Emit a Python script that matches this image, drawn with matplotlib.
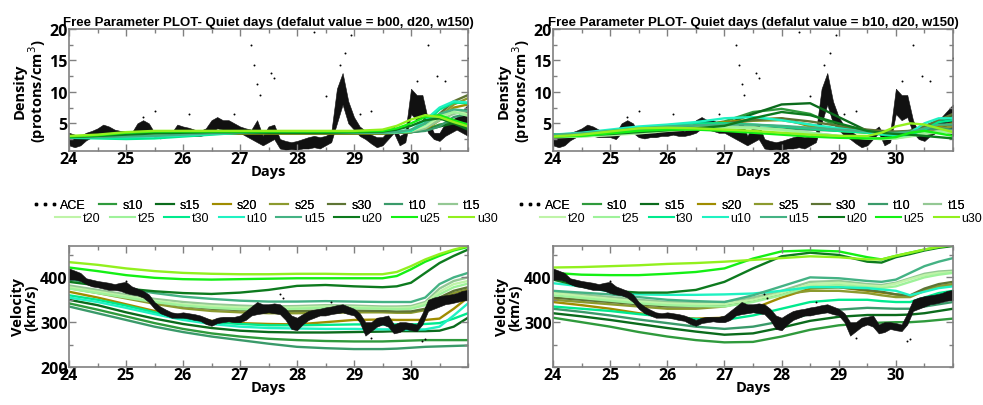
import numpy as np
import matplotlib
matplotlib.use("Agg")
import matplotlib.pyplot as plt
from matplotlib.lines import Line2D
from matplotlib.ticker import MultipleLocator

# model names and colours
names = ["s10", "s15", "s20", "s25", "s30", "t10", "t15",
         "t20", "t25", "t30", "u10", "u15", "u20", "u25", "u30"]
colors = ["#2f9a3c", "#0b6b1c", "#a08c00", "#8c9a2e", "#5e7434", "#3a9a6a", "#94c894",
          "#bff4a8", "#9ef29a", "#00ea8e", "#1ff2c2", "#44b284", "#0d7a1e", "#14f014", "#92f01e"]

# model knots (days)
knots = [24, 24.5, 25, 25.5, 26, 26.5, 27, 27.5, 28, 28.5, 29, 29.5, 29.75, 30, 30.25, 30.5, 30.75, 31]

# density, left panel (b00)
dens_left = {
    "s10": [2.8, 2.9, 3.1, 3.2, 3.3, 3.4, 3.4, 3.4, 3.4, 3.4, 3.4, 3.4, 3.5, 3.6, 4.0, 4.8, 5.2, 4.5],
    "s15": [2.8, 2.9, 3.1, 3.2, 3.3, 3.4, 3.4, 3.4, 3.4, 3.4, 3.4, 3.4, 3.5, 3.6, 3.9, 4.5, 5.0, 4.0],
    "s20": [2.8, 2.9, 3.0, 3.2, 3.3, 3.4, 3.4, 3.4, 3.4, 3.4, 3.4, 3.4, 3.5, 3.6, 4.0, 5.5, 7.5, 8.0],
    "s25": [2.9, 3.0, 3.2, 3.3, 3.4, 3.5, 3.5, 3.5, 3.5, 3.5, 3.5, 3.5, 3.5, 3.7, 4.2, 6.0, 8.0, 9.0],
    "s30": [2.9, 3.0, 3.2, 3.4, 3.5, 3.6, 3.6, 3.6, 3.6, 3.6, 3.5, 3.5, 3.6, 3.8, 4.5, 6.5, 8.5, 9.5],
    "t10": [2.8, 2.9, 3.1, 3.3, 3.4, 3.5, 3.5, 3.5, 3.5, 3.5, 3.5, 3.5, 3.5, 3.6, 3.8, 4.5, 6.0, 6.5],
    "t15": [2.9, 3.0, 3.2, 3.3, 3.4, 3.5, 3.5, 3.5, 3.5, 3.5, 3.5, 3.5, 3.6, 3.7, 4.2, 5.5, 6.5, 7.0],
    "t20": [2.9, 3.0, 3.2, 3.3, 3.4, 3.5, 3.5, 3.5, 3.5, 3.5, 3.5, 3.5, 3.6, 3.8, 4.5, 6.0, 6.8, 6.5],
    "t25": [2.9, 3.0, 3.2, 3.3, 3.4, 3.5, 3.5, 3.5, 3.5, 3.5, 3.5, 3.5, 3.6, 3.9, 4.8, 6.3, 6.8, 6.2],
    "t30": [2.7, 2.6, 2.5, 2.6, 2.9, 3.2, 3.5, 3.6, 3.6, 3.6, 3.6, 3.6, 3.6, 3.8, 5.0, 7.2, 8.3, 8.2],
    "u10": [2.8, 2.8, 2.8, 2.9, 3.1, 3.3, 3.5, 3.6, 3.6, 3.6, 3.6, 3.6, 3.7, 3.9, 5.5, 7.5, 8.5, 8.3],
    "u15": [2.8, 2.8, 2.9, 3.0, 3.2, 3.4, 3.5, 3.5, 3.5, 3.5, 3.5, 3.5, 3.6, 4.0, 5.0, 6.5, 7.2, 7.0],
    "u20": [2.8, 3.0, 3.2, 3.4, 3.5, 3.6, 3.6, 3.5, 3.5, 3.5, 3.6, 3.7, 4.0, 4.6, 5.5, 5.8, 5.0, 4.2],
    "u25": [2.9, 3.1, 3.5, 3.7, 3.7, 3.7, 3.7, 3.7, 3.7, 3.7, 3.7, 3.8, 4.2, 5.0, 6.0, 6.3, 5.5, 4.8],
    "u30": [3.0, 3.2, 3.6, 3.8, 3.8, 3.8, 3.8, 3.8, 3.8, 3.8, 3.8, 4.0, 4.6, 5.6, 6.3, 6.0, 5.2, 4.5],
}

# density, right panel (b10)
dens_right = {
    "s10": [3.0, 3.2, 3.5, 3.8, 4.2, 4.6, 5.3, 6.8, 7.3, 6.5, 4.5, 3.7, 3.5, 3.5, 3.8, 4.5, 5.5, 6.0],
    "s15": [3.0, 3.1, 3.3, 3.6, 3.9, 4.2, 4.8, 6.5, 8.0, 8.2, 6.0, 3.8, 3.5, 3.5, 3.6, 4.0, 4.5, 5.0],
    "s20": [3.0, 3.2, 3.4, 3.8, 4.2, 4.6, 5.2, 5.6, 5.8, 4.5, 3.8, 3.5, 3.3, 3.2, 3.3, 3.8, 4.5, 5.0],
    "s25": [3.0, 3.2, 3.5, 3.8, 4.2, 4.6, 5.0, 5.4, 5.5, 4.8, 4.0, 3.6, 3.4, 3.3, 3.4, 3.8, 4.2, 4.5],
    "s30": [3.1, 3.3, 3.5, 3.8, 4.2, 4.5, 5.0, 5.5, 5.8, 5.3, 4.6, 4.0, 3.8, 3.7, 3.8, 4.5, 5.5, 6.5],
    "t10": [3.2, 3.3, 3.6, 4.0, 4.3, 4.4, 4.4, 4.3, 4.2, 4.0, 3.8, 3.6, 3.5, 3.5, 3.7, 4.0, 4.2, 4.0],
    "t15": [2.9, 3.0, 3.3, 3.6, 4.0, 4.3, 4.5, 4.4, 4.0, 3.5, 3.0, 2.7, 2.6, 2.7, 3.0, 3.5, 3.8, 3.8],
    "t20": [2.8, 2.9, 3.1, 3.4, 3.8, 4.1, 4.3, 4.2, 3.9, 3.4, 2.9, 2.6, 2.5, 2.6, 2.9, 3.3, 3.6, 3.5],
    "t25": [2.8, 2.9, 3.2, 3.5, 3.9, 4.2, 4.4, 4.3, 4.0, 3.5, 3.0, 2.6, 2.5, 2.6, 3.0, 3.4, 3.7, 3.6],
    "t30": [3.0, 3.3, 3.7, 4.2, 4.7, 5.0, 5.0, 4.8, 4.5, 4.2, 3.8, 3.5, 3.2, 3.0, 3.2, 4.0, 5.2, 5.5],
    "u10": [3.2, 3.5, 4.0, 4.5, 4.8, 5.2, 5.8, 6.0, 5.5, 4.8, 4.2, 3.6, 3.3, 3.2, 3.5, 5.0, 5.8, 5.8],
    "u15": [3.2, 3.4, 3.8, 4.2, 4.5, 4.7, 4.8, 4.8, 4.6, 4.3, 4.0, 3.7, 3.5, 3.4, 3.6, 4.2, 4.8, 4.8],
    "u20": [2.9, 3.1, 3.3, 3.6, 3.9, 4.2, 4.6, 5.8, 6.8, 6.3, 5.0, 3.8, 3.5, 3.3, 3.2, 3.0, 2.8, 2.6],
    "u25": [2.9, 3.0, 3.4, 3.8, 4.0, 4.0, 3.8, 3.5, 3.2, 2.9, 2.7, 2.6, 2.6, 2.8, 3.5, 3.8, 3.4, 3.0],
    "u30": [2.9, 3.2, 3.7, 4.2, 4.3, 4.2, 4.0, 3.8, 3.5, 3.2, 3.0, 3.0, 3.5, 4.5, 5.0, 4.8, 4.2, 3.6],
}

# velocity, left panel (b00)
vel_left = {
    "s10": [342, 328, 313, 298, 285, 275, 268, 263, 260, 258, 257, 257, 258, 259, 260, 260, 260, 260],
    "s15": [350, 338, 322, 308, 296, 287, 281, 278, 277, 277, 278, 279, 280, 280, 280, 281, 290, 310],
    "s20": [368, 355, 340, 325, 312, 303, 298, 296, 295, 300, 305, 306, 305, 305, 305, 308, 330, 355],
    "s25": [376, 365, 353, 341, 331, 325, 322, 320, 320, 321, 322, 322, 321, 321, 327, 350, 365, 373],
    "s30": [380, 370, 358, 346, 336, 330, 327, 325, 325, 326, 326, 325, 324, 324, 330, 355, 370, 378],
    "t10": [335, 320, 305, 290, 278, 268, 260, 252, 245, 242, 240, 240, 241, 243, 245, 246, 247, 248],
    "t15": [382, 372, 362, 352, 345, 340, 337, 335, 336, 338, 337, 335, 335, 336, 345, 375, 392, 400],
    "t20": [378, 368, 358, 348, 340, 336, 333, 332, 333, 335, 334, 332, 332, 333, 342, 368, 385, 392],
    "t25": [375, 365, 355, 345, 337, 332, 329, 328, 330, 332, 331, 330, 329, 330, 338, 362, 378, 386],
    "t30": [360, 350, 337, 322, 308, 300, 296, 293, 293, 294, 295, 295, 295, 295, 296, 298, 308, 320],
    "u10": [355, 345, 332, 318, 305, 296, 290, 287, 286, 285, 285, 284, 284, 283, 284, 290, 315, 342],
    "u15": [395, 385, 375, 365, 357, 352, 348, 346, 346, 347, 346, 345, 345, 345, 355, 385, 400, 410],
    "u20": [390, 382, 375, 369, 365, 363, 366, 372, 381, 383, 380, 378, 380, 388, 410, 432, 448, 462],
    "u25": [422, 414, 405, 399, 396, 395, 396, 397, 398, 398, 398, 398, 403, 418, 435, 448, 460, 468],
    "u30": [434, 428, 420, 414, 410, 408, 407, 407, 408, 408, 407, 407, 412, 425, 440, 452, 462, 470],
}

# velocity, right panel (b10)
vel_right = {
    "s10": [310, 300, 290, 278, 268, 260, 255, 256, 268, 283, 293, 298, 299, 300, 300, 302, 305, 308],
    "s15": [320, 313, 305, 296, 287, 279, 272, 275, 288, 303, 312, 316, 316, 316, 317, 320, 325, 330],
    "s20": [345, 338, 330, 320, 312, 308, 310, 330, 355, 375, 378, 370, 366, 362, 358, 372, 380, 383],
    "s25": [350, 345, 340, 335, 330, 330, 335, 350, 362, 370, 370, 365, 360, 356, 356, 370, 380, 385],
    "s30": [355, 350, 345, 340, 335, 335, 338, 350, 365, 378, 378, 372, 368, 362, 360, 375, 385, 390],
    "t10": [330, 323, 315, 306, 298, 290, 285, 290, 302, 318, 328, 332, 331, 330, 330, 335, 340, 345],
    "t15": [368, 362, 356, 350, 345, 344, 345, 355, 370, 390, 392, 385, 383, 388, 398, 408, 413, 415],
    "t20": [365, 358, 352, 346, 342, 340, 340, 350, 365, 385, 388, 382, 380, 386, 396, 405, 410, 412],
    "t25": [360, 354, 348, 342, 338, 336, 335, 345, 360, 380, 383, 378, 376, 380, 390, 400, 406, 410],
    "t30": [335, 330, 325, 318, 312, 307, 305, 315, 330, 345, 350, 350, 347, 345, 345, 355, 365, 370],
    "u10": [387, 380, 368, 362, 361, 361, 362, 364, 370, 378, 378, 376, 373, 370, 360, 368, 376, 380],
    "u15": [370, 366, 362, 356, 350, 347, 345, 360, 380, 400, 398, 392, 390, 395, 410, 425, 435, 443],
    "u20": [395, 380, 370, 366, 366, 372, 390, 420, 447, 455, 450, 435, 433, 445, 452, 460, 466, 470],
    "u25": [410, 406, 405, 405, 408, 412, 420, 442, 458, 460, 458, 445, 440, 448, 455, 462, 468, 472],
    "u30": [422, 423, 425, 427, 430, 432, 435, 439, 443, 447, 445, 440, 440, 448, 455, 462, 468, 472],
}

# ACE observations, 0.1 day bins: lower / upper envelope
ace_days = [24.0 + 0.1 * i for i in range(71)]
ace_dens_lo = [1.5, 1.2, 1.5, 2.3, 2.8, 3.0, 3.2, 3.0, 2.8, 2.8,
               2.8, 2.5, 3.5, 3.8, 3.5, 2.8, 2.6, 2.8, 2.8, 3.0,
               3.0, 3.2, 3.0, 3.0, 3.2, 3.5, 4.2, 4.0, 3.8, 3.5,
               3.5, 3.0, 2.5, 2.0, 1.5, 2.0, 2.5, 1.0, 0.8, 0.9,
               0.8, 1.0, 1.0, 1.2, 1.0, 1.5, 2.0, 5.0, 8.0, 5.0,
               4.0, 3.0, 2.5, 1.8, 1.2, 1.5, 2.5, 3.5, 1.5, 2.0,
               6.5, 5.5, 6.0, 3.5, 2.5, 2.2, 3.0, 3.5, 4.0, 3.5, 3.0]
ace_dens_hi = [3.5, 3.2, 3.0, 3.5, 3.8, 4.2, 4.8, 4.5, 4.0, 3.8,
               3.8, 3.5, 5.0, 5.5, 5.0, 3.5, 3.4, 3.5, 3.5, 4.8,
               4.5, 4.3, 4.0, 3.8, 4.2, 5.5, 6.0, 5.5, 5.5, 5.0,
               4.5, 4.2, 4.0, 5.5, 3.0, 4.5, 4.8, 2.5, 2.2, 2.0,
               2.2, 2.5, 2.8, 3.0, 2.8, 3.0, 3.5, 10.5, 13.0, 8.5,
               6.0, 4.5, 3.8, 3.2, 2.8, 2.8, 3.8, 4.5, 3.0, 3.5,
               10.5, 9.5, 9.5, 5.5, 3.5, 3.5, 5.0, 5.5, 6.0, 7.0, 8.0]
ace_vel_lo = [395, 395, 392, 385, 380, 378, 375, 372, 372, 370,
              365, 362, 360, 355, 345, 330, 320, 315, 310, 310,
              310, 308, 305, 303, 296, 292, 298, 300, 302, 300,
              300, 305, 315, 318, 320, 322, 320, 318, 305, 285,
              282, 295, 305, 310, 315, 315, 318, 320, 322, 318,
              315, 300, 270, 280, 290, 295, 290, 275, 278, 285,
              282, 280, 295, 325, 330, 335, 340, 342, 345, 348, 350]
ace_vel_hi = [420, 415, 410, 398, 395, 392, 390, 388, 385, 388,
              390, 380, 375, 370, 362, 345, 335, 328, 322, 320,
              322, 320, 318, 315, 310, 305, 310, 312, 312, 312,
              315, 325, 335, 345, 340, 340, 342, 340, 330, 315,
              310, 318, 325, 328, 330, 333, 335, 338, 340, 335,
              330, 320, 300, 300, 310, 312, 315, 295, 300, 300,
              298, 295, 320, 350, 355, 358, 360, 362, 365, 370, 372]

# scattered ACE points away from the main band
dens_out_day = [25.3, 25.5, 26.1, 26.9, 27.2, 27.25, 27.3, 27.35, 27.55, 27.6,
                28.3, 28.5, 28.75, 28.85, 28.95, 29.1, 29.3, 30.1, 30.3, 30.45, 30.6, 31.0]
dens_out_val = [6.0, 7.0, 6.5, 6.5, 17.5, 14.2, 11.3, 9.5, 13.0, 12.2,
                19.5, 9.3, 14.3, 16.2, 19.0, 6.5, 7.0, 11.8, 17.5, 12.6, 11.7, 15.4]
vel_out_day = [25.0, 27.7, 27.75, 28.6, 29.3, 30.2, 30.25]
vel_out_val = [392, 362, 355, 345, 265, 258, 262]

titles = ["Free Parameter PLOT- Quiet days (defalut value = b00, d20, w150)",
          "Free Parameter PLOT- Quiet days (defalut value = b10, d20, w150)"]
xticks = [24, 25, 26, 27, 28, 29, 30]

W, H = 983, 406
fig = plt.figure(figsize=(W / 100, H / 100), dpi=100)
tick_font = "Open Sans"
text_font = "Liberation Sans"


def px_axes(x0, y0, x1, y1):
    return fig.add_axes([x0 / W, 1 - y1 / H, (x1 - x0) / W, (y1 - y0) / H])


def style(ax, ylim, yticks, ymin, ylab):
    ax.set_xlim(24, 31)
    ax.set_ylim(*ylim)
    ax.set_xticks(xticks)
    ax.set_yticks(yticks)
    ax.xaxis.set_minor_locator(MultipleLocator(0.5))
    ax.yaxis.set_minor_locator(MultipleLocator(ymin))
    ax.tick_params(which="both", direction="in", top=True, right=True, color="#808080")
    ax.tick_params(which="major", length=5, width=1)
    ax.tick_params(which="minor", length=3, width=1)
    for lab in ax.get_xticklabels() + ax.get_yticklabels():
        lab.set_fontfamily(tick_font)
        lab.set_fontweight("bold")
        lab.set_fontsize(11.5)
    ax.tick_params(axis="x", pad=0)
    ax.tick_params(axis="y", pad=1)
    for s in ax.spines.values():
        s.set_color("#808080")
        s.set_linewidth(1.2)
    ax.set_xlabel("Days", fontfamily=tick_font, fontweight="bold", fontsize=10.5, labelpad=-2)
    ax.set_ylabel(ylab, fontfamily=tick_font, fontweight="bold", fontsize=10.5, labelpad=1,
                  linespacing=0.95)


lefts = [(69, 468), (553, 953)]
dens_sets = [dens_left, dens_right]
vel_sets = [vel_left, vel_right]

for i in range(2):
    x0, x1 = lefts[i]
    # density
    ax = px_axes(x0, 30, x1, 152)
    ax.fill_between(ace_days, ace_dens_lo, ace_dens_hi, color="#111111", lw=0.4, zorder=1)
    ax.scatter(dens_out_day, dens_out_val, s=2, color="black", lw=0, zorder=1)
    for n, c in zip(names, colors):
        ax.plot(knots, dens_sets[i][n], color=c, lw=1.7, zorder=2)
    style(ax, (0.6, 20), [5, 10, 15, 20], 2.5, "Density\n(protons/cm$^3$)")
    ax.set_title(titles[i], fontfamily=text_font, fontweight="bold", fontsize=9.5, pad=3)

    # velocity
    ax = px_axes(x0, 247, x1, 368)
    for n, c in zip(names, colors):
        ax.plot(knots, vel_sets[i][n], color=c, lw=1.7, zorder=1)
    ax.fill_between(ace_days, ace_vel_lo, ace_vel_hi, color="#111111", lw=0.4, zorder=2)
    ax.scatter(vel_out_day, vel_out_val, s=2, color="black", lw=0, zorder=2)
    style(ax, (200, 470), [200, 300, 400] if i == 0 else [300, 400], 50, "Velocity\n(km/s)")

    # legend, two rows
    ace_h = Line2D([], [], ls="none", marker="s", ms=2, color="black")
    hs = [ace_h] + [Line2D([], [], color=c, lw=1.5) for c in colors]
    ls = ["ACE"] + names
    cx = (x0 + x1) / 2
    row1 = fig.legend(hs[:8], ls[:8], ncol=8, loc="center", frameon=False,
                      bbox_to_anchor=((cx - 12) / W, 1 - 206 / H), numpoints=3,
                      handlelength=2.0, handletextpad=0.2, columnspacing=0.75,
                      borderpad=0, prop={"family": text_font, "size": 9})
    fig.add_artist(row1)
    fig.legend(hs[8:], ls[8:], ncol=8, loc="center", frameon=False,
               bbox_to_anchor=((cx + 8) / W, 1 - 219 / H),
               handlelength=2.0, handletextpad=0.2, columnspacing=0.75,
               borderpad=0, prop={"family": text_font, "size": 9})

fig.savefig("out.png", dpi=100)
